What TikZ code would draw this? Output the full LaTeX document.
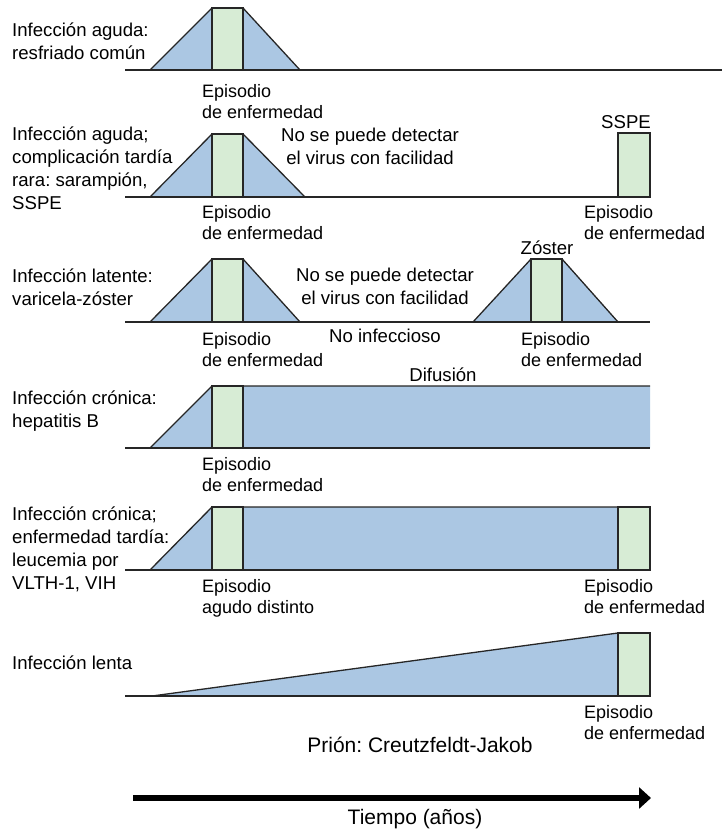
\documentclass[tikz,border=0pt]{standalone}
\usepackage{fontspec}
\setmainfont{Liberation Sans}
\usetikzlibrary{arrows.meta}
\frenchspacing
\definecolor{phaseblue}{RGB}{171,199,227}
\definecolor{illgreen}{RGB}{215,236,213}
\definecolor{inkgray}{RGB}{38,38,38}

% acute bump: base y, top y, left foot x, episode left x, episode right x, right foot x
\newcommand\illbump[6]{%
  \fill[phaseblue] (#3,#1) -- (#4,#2) -- (#5,#2) -- (#6,#1) -- cycle;
  \filldraw[fill=illgreen, outline] (#4,#1) rectangle (#5,#2);
  \draw[outline] (#3,#1) -- (#4,#2) -- (#5,#2) -- (#6,#1);
}

\begin{document}
\begin{tikzpicture}[x=1pt,y=-1pt,
  % multi-line nodes are placed by the baseline of their last line
  lbl/.style={font=\fontsize{18.6}{22.8}\selectfont, align=left, anchor=base west, inner sep=0pt},
  ep/.style={font=\fontsize{18}{21}\selectfont, align=left, anchor=base west, inner sep=0pt},
  note/.style={font=\fontsize{18.6}{23}\selectfont, align=center, anchor=base, inner sep=0pt},
  bignote/.style={font=\fontsize{21}{25}\selectfont, anchor=base, inner sep=0pt},
  outline/.style={draw=inkgray, line width=1.3pt, line join=miter},
  axisline/.style={draw=inkgray, line width=1.4pt},
  timearrow/.style={line width=6pt, -{Triangle[length=12pt,width=21pt]}}]
\useasboundingbox (0,0) rectangle (722,831);

% ---- row 1: acute infection
\illbump{70}{8}{150}{212}{243}{300}
\draw[axisline] (125,70) -- (722,70);
\node[lbl] (r1lab) at (12,59) {Infección aguda:\\resfriado común};
\node[ep] (r1ep) at (202,118) {Episodio\\de enfermedad};

% ---- row 2: acute infection, rare late complication
\illbump{197}{134}{150}{212}{243}{305}
\filldraw[fill=illgreen, outline] (618,197) rectangle (650,133);
\draw[axisline] (125,197) -- (650,197);
\node[lbl] (r2lab) at (12,209) {Infección aguda;\\complicación tardía\\rara: sarampión,\\SSPE};
\node[note] (r2hid) at (370,164) {No se puede detectar\\el virus con facilidad};
\node[note] (r2sspe) at (626,128) {SSPE};
\node[ep] (r2epa) at (202,239) {Episodio\\de enfermedad};
\node[ep] (r2epb) at (584,239) {Episodio\\de enfermedad};

% ---- row 3: latent infection
\illbump{322}{259}{150}{212}{243}{300}
\illbump{322}{259}{473}{531}{562}{618}
\draw[axisline] (125,322) -- (650,322);
\node[lbl] (r3lab) at (12,305) {Infección latente:\\varicela-zóster};
\node[note] (r3hid) at (385,304) {No se puede detectar\\el virus con facilidad};
\node[note] (r3zos) at (547,254) {Zóster};
\node[note] (r3noinf) at (385,342) {No infeccioso};
\node[note] (r3dif) at (443,381) {Difusión};
\node[ep] (r3epa) at (202,366) {Episodio\\de enfermedad};
\node[ep] (r3epb) at (521,366) {Episodio\\de enfermedad};

% ---- row 4: chronic infection
\fill[phaseblue] (150,448) -- (212,386) -- (650,386) -- (650,448) -- cycle;
\filldraw[fill=illgreen, outline] (212,448) rectangle (243,386);
\draw[outline] (150,448) -- (212,386) -- (650,386);
\draw[axisline] (125,448) -- (650,448);
\node[lbl] (r4lab) at (12,427) {Infección crónica:\\hepatitis B};
\node[ep] (r4ep) at (202,491) {Episodio\\de enfermedad};

% ---- row 5: chronic infection, late disease
\fill[phaseblue] (150,570) -- (212,507) -- (618,507) -- (618,570) -- cycle;
\filldraw[fill=illgreen, outline] (212,570) rectangle (243,507);
\filldraw[fill=illgreen, outline] (618,570) rectangle (650,507);
\draw[outline] (150,570) -- (212,507) -- (650,507);
\draw[axisline] (125,570) -- (650,570);
\node[lbl] (r5lab) at (12,589) {Infección crónica;\\enfermedad tardía:\\leucemia por\\VLTH-1, VIH};
\node[ep] (r5epa) at (202,613) {Episodio\\agudo distinto};
\node[ep] (r5epb) at (584,613) {Episodio\\de enfermedad};

% ---- row 6: slow infection
\fill[phaseblue] (152,696) -- (618,633) -- (618,696) -- cycle;
\filldraw[fill=illgreen, outline] (618,696) rectangle (650,633);
\draw[outline] (152,696) -- (618,633);
\draw[axisline] (125,696) -- (650,696);
\node[lbl] (r6lab) at (12,669) {Infección lenta};
\node[ep] (r6ep) at (584,739) {Episodio\\de enfermedad};
\node[bignote] (prion) at (420,752) {Prión: Creutzfeldt-Jakob};

% ---- time axis
\coordinate (tstart) at (133,798);
\coordinate (tend) at (651,798);
\draw[timearrow] (tstart) -- (tend);
\node[bignote] (tlab) at (415,824) {Tiempo (años)};
\end{tikzpicture}
\end{document}
